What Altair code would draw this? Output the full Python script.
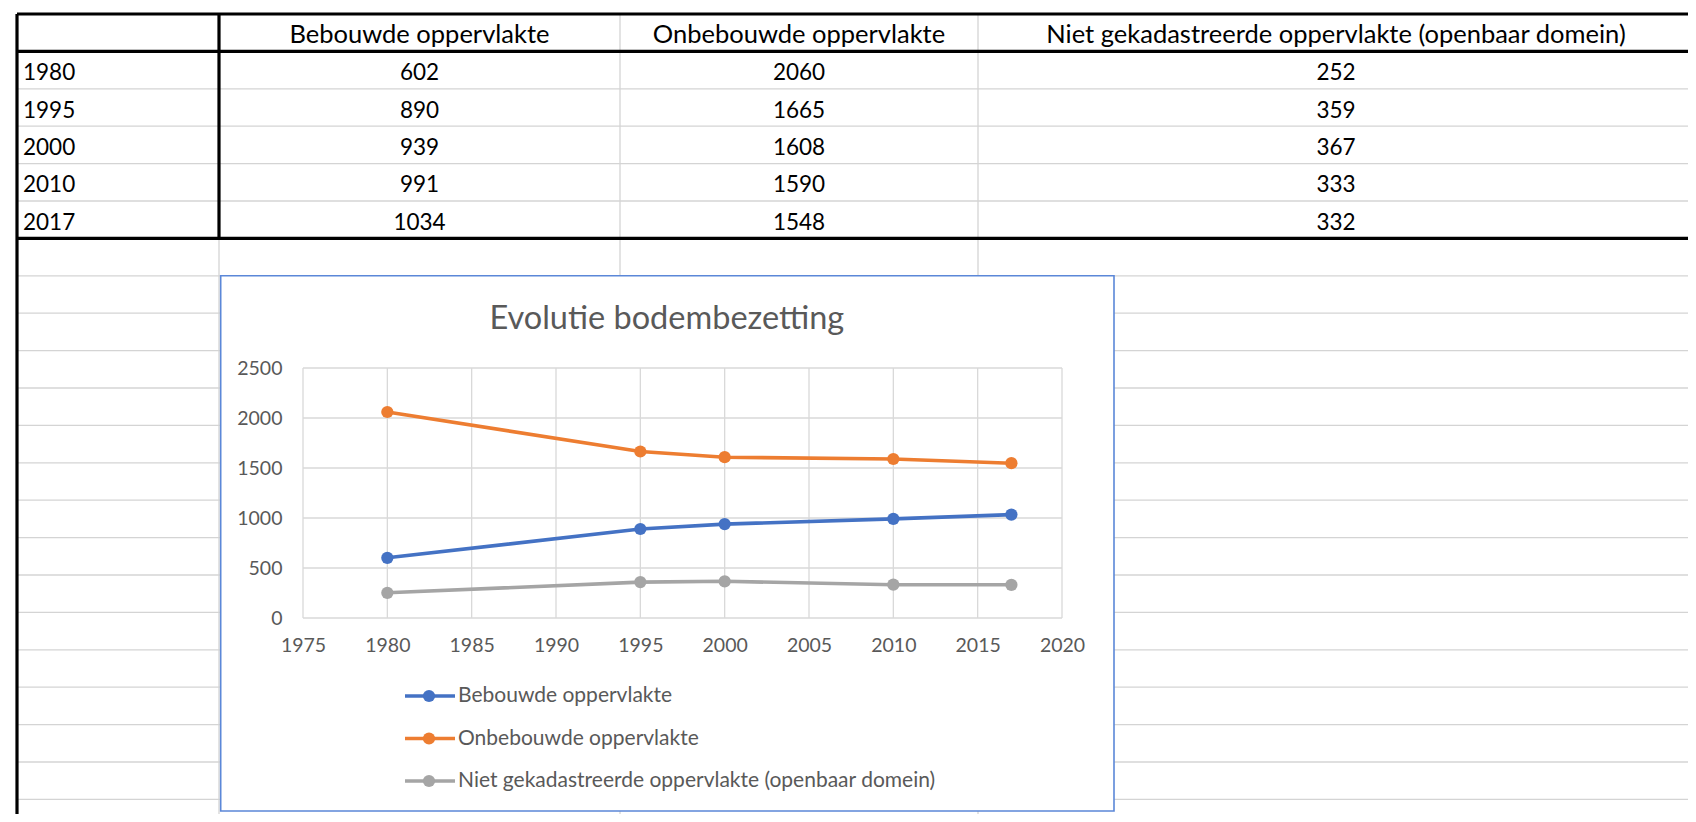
import altair as alt
import pandas as pd

# ---------------- data ----------------
years = [1980, 1995, 2000, 2010, 2017]
series_names = [
    "Bebouwde oppervlakte",
    "Onbebouwde oppervlakte",
    "Niet gekadastreerde oppervlakte (openbaar domein)",
]
bebouwd = [602, 890, 939, 991, 1034]
onbebouwd = [2060, 1665, 1608, 1590, 1548]
niet_gekad = [252, 359, 367, 333, 332]
series_values = [bebouwd, onbebouwd, niet_gekad]
series_colors = ["#4472C4", "#ED7D31", "#A5A5A5"]
x_ticks = [1975, 1980, 1985, 1990, 1995, 2000, 2005, 2010, 2015, 2020]
y_ticks = [0, 500, 1000, 1500, 2000, 2500]
chart_title = "Evolutie bodembezetting"

# ---------------- layout (pixels inside the drawing) ----------------
W, H = 1680, 806
SHEET_COLS = [9, 211, 612, 970, 1686]      # sheet column edges
ROW_TOP, ROW_H, N_ROWS = 6, 37.4, 21       # sheet row grid
BOTTOM_ROW = (H - ROW_TOP) / ROW_H
FRAME = dict(x=212.7, x2=1106, y=267.7, y2=803)
PLOT_X = [295, 1054]
PLOT_Y = [610, 360]
FONT = "Lato"
GRID = "#D9D9D9"
TXT = "#595959"

long = pd.DataFrame(
    [{"jaar": y, "reeks": s, "waarde": v}
     for s, vals in zip(series_names, series_values)
     for y, v in zip(years, vals)]
)

cells = []
for j, s in enumerate(series_names):
    cells.append({"row": 0, "col": j + 1, "label": s, "kind": "h"})
for i, y in enumerate(years):
    cells.append({"row": i + 1, "col": 0, "label": str(y), "kind": "l"})
    for j, vals in enumerate(series_values):
        cells.append({"row": i + 1, "col": j + 1, "label": str(vals[i]), "kind": "c"})
cells = pd.DataFrame(cells)
cells["xc"] = cells["col"] + 0.5
cells["yc"] = cells["row"] + 0.5

thick_rows = [0, 1, len(years) + 1]
hlines = pd.DataFrame({"r": list(range(N_ROWS + 1))})
hlines["x0"] = 0
hlines["x1"] = 4
hlines["kind"] = ["thick" if r in thick_rows else "light" for r in hlines["r"]]
vlines = pd.DataFrame([
    {"c": 0, "r0": 0, "r1": BOTTOM_ROW, "kind": "thick"},
    {"c": 1, "r0": 0, "r1": len(years) + 1, "kind": "thick"},
    {"c": 1, "r0": len(years) + 1, "r1": BOTTOM_ROW, "kind": "light"},
    {"c": 2, "r0": 0, "r1": BOTTOM_ROW, "kind": "light"},
    {"c": 3, "r0": 0, "r1": BOTTOM_ROW, "kind": "light"},
])

def sx():
    return alt.Scale(domain=[0, 1, 2, 3, 4], range=SHEET_COLS, zero=False, nice=False)

def sy():
    return alt.Scale(domain=[0, N_ROWS], range=[ROW_TOP, ROW_TOP + N_ROWS * ROW_H], zero=False, nice=False)

def hrule(kind, color, width):
    return alt.Chart(hlines[hlines["kind"] == kind]).mark_rule(
        color=color, strokeWidth=width
    ).encode(
        x=alt.X("x0:Q", scale=sx(), axis=None),
        x2="x1:Q",
        y=alt.Y("r:Q", scale=sy(), axis=None),
    )

def vrule(kind, color, width):
    return alt.Chart(vlines[vlines["kind"] == kind]).mark_rule(
        color=color, strokeWidth=width
    ).encode(
        x=alt.X("c:Q", scale=sx(), axis=None),
        y=alt.Y("r0:Q", scale=sy(), axis=None),
        y2="r1:Q",
    )

cell_head = alt.Chart(cells[cells["kind"] == "h"]).mark_text(
    font=FONT, fontSize=25.5, color="#000000", align="center", baseline="middle", dy=2
).encode(
    x=alt.X("xc:Q", scale=sx(), axis=None),
    y=alt.Y("yc:Q", scale=sy(), axis=None),
    text="label:N",
)
cell_center = alt.Chart(cells[cells["kind"] == "c"]).mark_text(
    font=FONT, fontSize=22.5, color="#000000", align="center", baseline="middle", dy=3
).encode(
    x=alt.X("xc:Q", scale=sx(), axis=None),
    y=alt.Y("yc:Q", scale=sy(), axis=None),
    text="label:N",
)
cell_left = alt.Chart(cells[cells["kind"] == "l"]).mark_text(
    font=FONT, fontSize=22.5, color="#000000", align="left", baseline="middle", dx=6, dy=3
).encode(
    x=alt.X("col:Q", scale=sx(), axis=None),
    y=alt.Y("yc:Q", scale=sy(), axis=None),
    text="label:N",
)

# ---------------- line chart ----------------
def xs():
    return alt.Scale(domain=[x_ticks[0], x_ticks[-1]], range=PLOT_X, zero=False, nice=False)

def ys():
    return alt.Scale(domain=[y_ticks[0], y_ticks[-1]], range=PLOT_Y, zero=False, nice=False)

def cs():
    return alt.Scale(domain=series_names, range=series_colors)

one = pd.DataFrame({"a": [0]})

frame = alt.Chart(one).mark_rect(fill="white", stroke="#5B87D8", strokeWidth=1.6).encode(
    x=alt.value(FRAME["x"]), x2=alt.value(FRAME["x2"]),
    y=alt.value(FRAME["y"]), y2=alt.value(FRAME["y2"]),
)
title = alt.Chart(one).mark_text(
    text=chart_title, font=FONT, fontSize=32.5, color=TXT, align="center", baseline="alphabetic"
).encode(x=alt.value((FRAME["x"] + FRAME["x2"]) / 2 - 0.5), y=alt.value(321))

xgrid = alt.Chart(pd.DataFrame({"t": x_ticks, "lo": y_ticks[0], "hi": y_ticks[-1]})).mark_rule(
    color=GRID, strokeWidth=1.3
).encode(
    x=alt.X("t:Q", scale=xs(), axis=None),
    y=alt.Y("lo:Q", scale=ys(), axis=None), y2="hi:Q",
)
ygrid = alt.Chart(pd.DataFrame({"t": y_ticks, "lo": x_ticks[0], "hi": x_ticks[-1]})).mark_rule(
    color=GRID, strokeWidth=1.3
).encode(
    y=alt.Y("t:Q", scale=ys(), axis=None),
    x=alt.X("lo:Q", scale=xs(), axis=None), x2="hi:Q",
)

x_axis = alt.Axis(
    values=x_ticks, format="d", orient="bottom", offset=PLOT_Y[0] - H, ticks=False, tickSize=0,
    domain=False, grid=False, labelPadding=18, labelFont=FONT, labelFontSize=19.5,
    labelColor=TXT, zindex=1, title=None, labelFlush=False, labelOverlap=False,
)
y_axis = alt.Axis(
    values=y_ticks, format="d", orient="left", offset=-PLOT_X[0], ticks=False, tickSize=0,
    domain=False, grid=False, labelPadding=21, labelFont=FONT, labelFontSize=19.5,
    labelColor=TXT, zindex=1, title=None, labelFlush=False, labelOverlap=False,
)

lines = alt.Chart(long).mark_line(strokeWidth=3.6).encode(
    x=alt.X("jaar:Q", scale=xs(), axis=x_axis),
    y=alt.Y("waarde:Q", scale=ys(), axis=y_axis),
    color=alt.Color("reeks:N", scale=cs(), legend=None),
)
points = alt.Chart(long).mark_circle(size=150, opacity=1).encode(
    x=alt.X("jaar:Q", scale=xs(), axis=None),
    y=alt.Y("waarde:Q", scale=ys(), axis=None),
    color=alt.Color("reeks:N", scale=cs(), legend=None),
)

# ---------------- legend (drawn from the series list) ----------------
leg = pd.DataFrame({"reeks": series_names})

def ly():
    return alt.Scale(type="point", domain=series_names, range=[688, 773], padding=0)

leg_rule = alt.Chart(leg).mark_rule(strokeWidth=3.6).encode(
    x=alt.value(397), x2=alt.value(447),
    y=alt.Y("reeks:N", scale=ly(), axis=None),
    color=alt.Color("reeks:N", scale=cs(), legend=None),
)
leg_pt = alt.Chart(leg).mark_circle(size=150, opacity=1).encode(
    x=alt.value(421),
    y=alt.Y("reeks:N", scale=ly(), axis=None),
    color=alt.Color("reeks:N", scale=cs(), legend=None),
)
leg_txt = alt.Chart(leg).mark_text(
    font=FONT, fontSize=21, color=TXT, align="left", baseline="middle"
).encode(
    x=alt.value(450),
    y=alt.Y("reeks:N", scale=ly(), axis=None),
    text="reeks:N",
)

chart = alt.layer(
    hrule("light", "#D4D4D4", 1.3),
    vrule("light", "#D4D4D4", 1.3),
    hrule("thick", "#000000", 3.2),
    vrule("thick", "#000000", 3.2),
    cell_head,
    cell_center,
    cell_left,
    frame, title, xgrid, ygrid, lines, points,
    leg_rule, leg_pt, leg_txt,
).resolve_scale(
    x="independent", y="independent", color="independent"
).properties(
    width=W, height=H, autosize=alt.AutoSizeParams(type="none"), padding=0, background="white"
).configure_view(strokeWidth=0)

chart.save("out.html", embed_options={"renderer": "svg", "actions": False})
